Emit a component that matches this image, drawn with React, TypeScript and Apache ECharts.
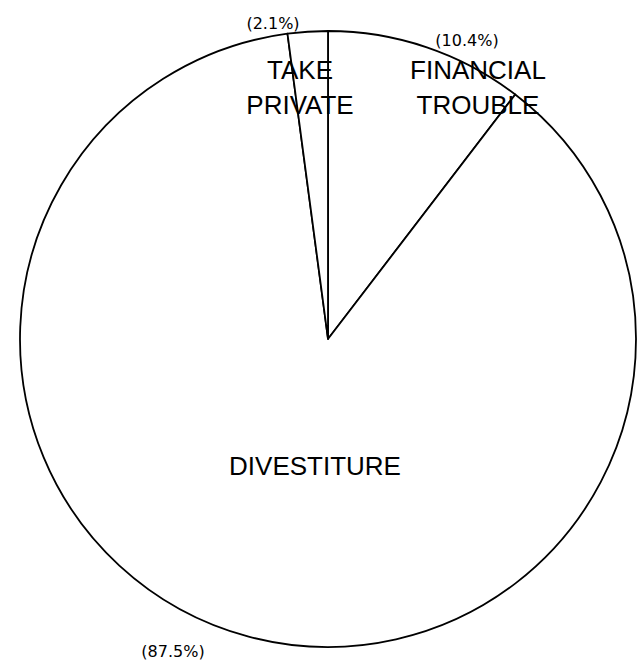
import React, { useEffect, useRef } from "react";
import * as echarts from "echarts";

const categories = ["FINANCIAL TROUBLE", "DIVESTITURE", "TAKE PRIVATE"];
const shares = [10.4, 87.5, 2.1];
const shareLabels = ["(10.4%)", "(87.5%)", "(2.1%)"];

// label anchor positions (layout only)
const nameAnchors = [
  { x: 478, y: 87 },
  { x: 315, y: 466 },
  { x: 300, y: 87 },
];
const pctAnchors = [
  { x: 467, y: 40 },
  { x: 173, y: 651 },
  { x: 273, y: 23 },
];

export default function App() {
  const ref = useRef<HTMLDivElement>(null);
  useEffect(() => {
    if (!ref.current) return;
    const chart = echarts.init(ref.current, undefined, { renderer: "svg" });
    const data = categories.map((c, i) => ({ name: c, value: shares[i] }));
    chart.setOption({
      animation: false,
      backgroundColor: "#ffffff",
      series: [
        {
          type: "pie",
          center: [328, 339],
          radius: [0, 308],
          startAngle: 90,
          clockwise: true,
          silent: true,
          itemStyle: { color: "#ffffff", borderColor: "#000000", borderWidth: 1.8 },
          label: {
            show: true,
            position: "inside",
            formatter: (p: any) => String(p.name).split(" ").join("\n"),
            fontFamily: "Liberation Sans, Arial, sans-serif",
            fontSize: 26,
            lineHeight: 35,
            color: "#000000",
            align: "center",
          },
          labelLine: { show: false },
          labelLayout: (p: any) => ({
            x: nameAnchors[p.dataIndex].x,
            y: nameAnchors[p.dataIndex].y,
            align: "center",
            verticalAlign: "middle",
          }),
          data,
        },
        {
          type: "pie",
          center: [328, 339],
          radius: [0, 308],
          startAngle: 90,
          clockwise: true,
          silent: true,
          z: 3,
          itemStyle: { color: "rgba(0,0,0,0)", borderWidth: 0 },
          label: {
            show: true,
            position: "inside",
            formatter: (p: any) => shareLabels[p.dataIndex],
            fontFamily: "DejaVu Sans, sans-serif",
            fontSize: 16,
            color: "#000000",
          },
          labelLine: { show: false },
          labelLayout: (p: any) => ({
            x: pctAnchors[p.dataIndex].x,
            y: pctAnchors[p.dataIndex].y,
            align: "center",
            verticalAlign: "middle",
          }),
          data,
        },
      ],
    });
    return () => chart.dispose();
  }, []);
  return (
    <div
      ref={ref}
      style={{ position: "fixed", left: 0, top: 0, width: 637, height: 662, background: "#fff" }}
    />
  );
}
